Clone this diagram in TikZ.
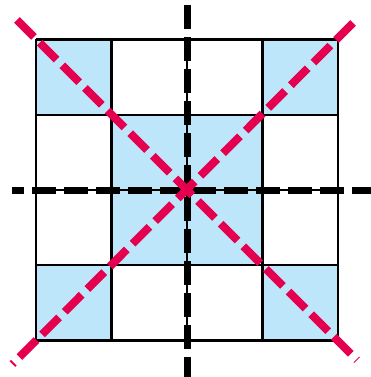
\documentclass[tikz,border=0pt]{standalone}
\usepackage{xcolor}
\usepackage{tikz}
\definecolor{cellblue}{HTML}{BDE6FA}
\definecolor{diagred}{HTML}{E4004F}

\begin{document}
\begin{tikzpicture}[
  x=1pt, y=-1pt,
  cell/.style={fill=cellblue, draw=none},
  gridline/.style={draw=black, line width=2.2pt},
  axis/.style={draw=black, line width=7.5pt, dash pattern=on 24pt off 8pt},
  diag/.style={draw=diagred, line width=8pt, dash pattern=on 24pt off 8pt},
]
\useasboundingbox (0,0) rectangle (371,377);

% --- shaded cells ---
\foreach \c/\r in {0/0, 3/0, 1/1, 2/1, 1/2, 2/2, 0/3, 3/3}
  \fill[cell] (36+75.5*\c, 39.5+75.25*\r) rectangle ++(75.5,75.25);

% --- grid ---
\foreach \i in {0,...,4} {
  \draw[gridline] (36+75.5*\i, 39.5) -- (36+75.5*\i, 340.5);
  \draw[gridline] (36, 39.5+75.25*\i) -- (338, 39.5+75.25*\i);
}

% --- axes ---
\coordinate (vtop) at (187.5,5);
\coordinate (vbot) at (187.5,377);
\coordinate (hleft) at (12,190.5);
\coordinate (hright) at (371,190.5);
\draw[axis] (vtop) -- (vbot);
\draw[axis, dash phase=12pt] (hleft) -- (hright);

% --- diagonals ---
\coordinate (tl) at (17,20);
\coordinate (br) at (357,360);
\coordinate (tr) at (353,23);
\coordinate (bl) at (12.5,364);
\draw[diag] (tl) -- (br);
\draw[diag] (tr) -- (bl);
\end{tikzpicture}
\end{document}
